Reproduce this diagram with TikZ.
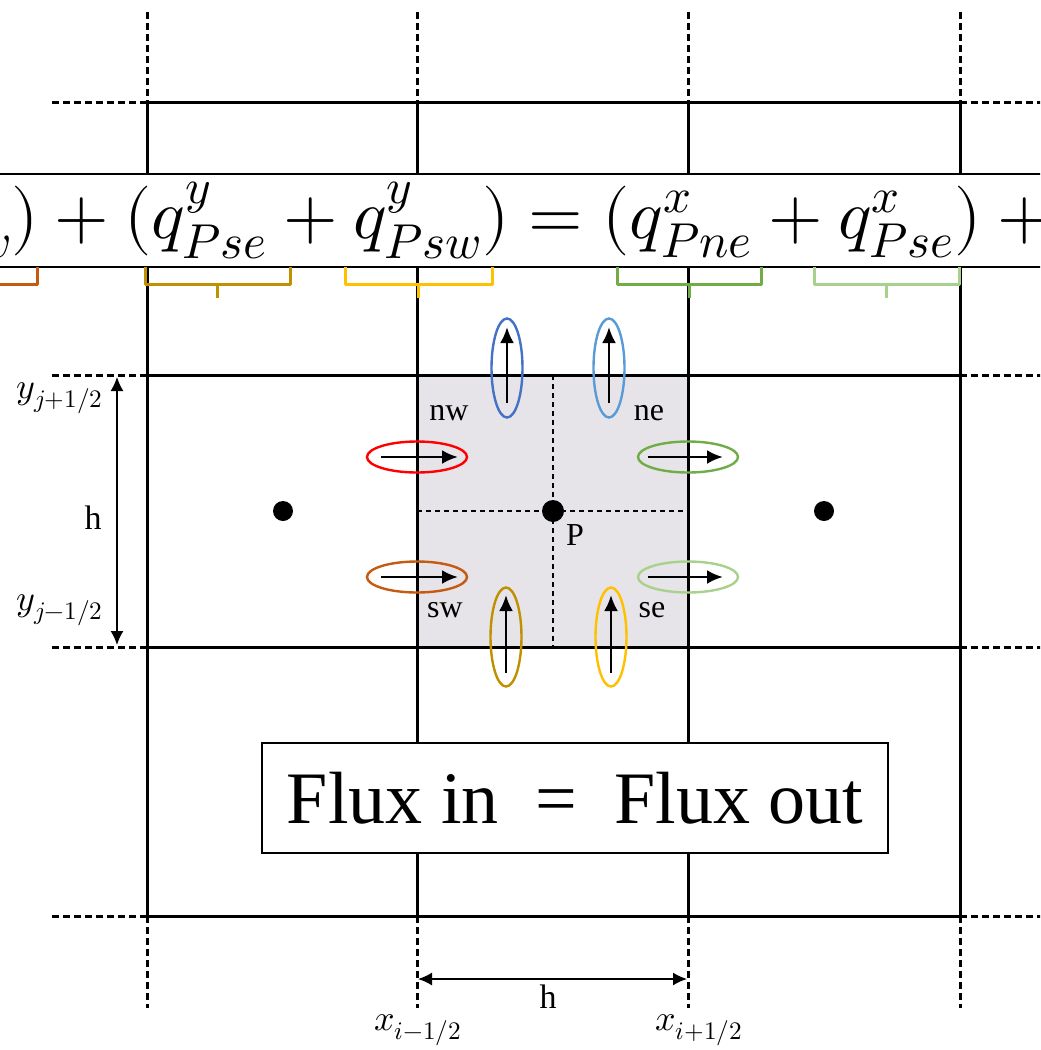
\documentclass[tikz,border=0pt]{standalone}
\usepackage{mathtools}
\usepackage{fontspec}
\usepackage{unicode-math}
\setmainfont{Liberation Serif}
\setmathfont{Latin Modern Math}
\usetikzlibrary{shapes.geometric,arrows.meta}
\definecolor{cellfill}{RGB}{230,228,232}
\definecolor{blueD}{RGB}{68,114,196}
\definecolor{blueL}{RGB}{91,155,213}
\definecolor{redC}{RGB}{255,0,0}
\definecolor{orangeC}{RGB}{197,90,17}
\definecolor{goldD}{RGB}{191,144,0}
\definecolor{goldL}{RGB}{255,192,0}
\definecolor{greenD}{RGB}{112,173,71}
\definecolor{greenL}{RGB}{169,209,142}
\begin{document}
\begin{tikzpicture}[x=0.5pt,y=-0.5pt,
  gridline/.style={line width=1.5pt},
  griddash/.style={line width=1.5pt,dash pattern=on 3.5pt off 2pt},
  thindash/.style={line width=1pt,dash pattern=on 2.5pt off 2pt},
  flux/.style={line width=1.4pt,-{Latex[length=8pt,width=7pt]}},
  ringv/.style={ellipse,draw,line width=1.2pt,inner sep=0pt,minimum width=15.5pt,minimum height=49.5pt},
  ringh/.style={ellipse,draw,line width=1.2pt,inner sep=0pt,minimum width=50pt,minimum height=15.5pt},
  dot/.style={circle,fill=black,inner sep=0pt,minimum size=10pt},
  lab/.style={font=\fontsize{16}{18}\selectfont,inner sep=0pt},
  hlab/.style={font=\fontsize{17}{19}\selectfont,inner sep=0pt},
  coordlab/.style={font=\fontsize{18}{20}\selectfont,inner sep=0pt},
  dim/.style={line width=0.8pt,{Latex[length=7pt,width=6.5pt]}-{Latex[length=7pt,width=6.5pt]}},
  brk/.style={line width=1.5pt,line join=round}]
\useasboundingbox (0,0) rectangle (1040,1050);
\clip (0,0) rectangle (1040,1050);
% shaded control volume
\fill[cellfill] (417,375) rectangle (688,647);
\draw[thindash] (553,375) -- (553,647);
\draw[thindash] (417,511) -- (688,511);
% grid
\foreach \x in {147,417,688,960} {
  \draw[gridline] (\x,102) -- (\x,916);
  \draw[griddash] (\x,12) -- (\x,102);
  \draw[griddash] (\x,916) -- (\x,1008);
}
\foreach \y in {102,375,647,916} {
  \draw[gridline] (147,\y) -- (960,\y);
  \draw[griddash] (52,\y) -- (147,\y);
  \draw[griddash] (960,\y) -- (1045,\y);
}
% nodes
\node[dot] (W) at (283,511) {};
\node[dot,minimum size=11pt] (P) at (553,511) {};
\node[dot] (E) at (824,511) {};
\node[lab] (Plab) at (575,535) {P};
\node[lab] (nw) at (449,413) {nw};
\node[lab] (ne) at (649,413) {ne};
\node[lab] (sw) at (445,610) {sw};
\node[lab] (se) at (652,610) {se};
% flux ellipses and arrows
\node[ringv,draw=blueD] (fnw) at (507,368) {};
\node[ringv,draw=blueL] (fne) at (609,368) {};
\node[ringv,draw=goldD] (fsw) at (506,637) {};
\node[ringv,draw=goldL] (fse) at (611,637) {};
\node[ringh,draw=redC] (fw1) at (417,457) {};
\node[ringh,draw=orangeC] (fw2) at (417,577) {};
\node[ringh,draw=greenD] (fe1) at (688,457) {};
\node[ringh,draw=greenL] (fe2) at (688,577) {};
\draw[flux] ([yshift=-17.5pt]fnw.center) -- ([yshift=20.5pt]fnw.center);
\draw[flux] ([yshift=-17.5pt]fne.center) -- ([yshift=20.5pt]fne.center);
\draw[flux] ([yshift=-18pt]fsw.center) -- ([yshift=21pt]fsw.center);
\draw[flux] ([yshift=-18pt]fse.center) -- ([yshift=21pt]fse.center);
\draw[flux] ([xshift=-18pt]fw1.center) -- ([xshift=20.5pt]fw1.center);
\draw[flux] ([xshift=-18pt]fw2.center) -- ([xshift=20.5pt]fw2.center);
\draw[flux] ([xshift=-20pt]fe1.center) -- ([xshift=17.5pt]fe1.center);
\draw[flux] ([xshift=-20pt]fe2.center) -- ([xshift=17.5pt]fe2.center);
% dimensions
\coordinate (yt) at (117,377);
\coordinate (yb) at (117,645);
\draw[dim] (yt) -- (yb);
\node[hlab] (hy) at (93,518) {h};
\node[coordlab] (yp) at (60,398) {$y_{j+1/2}$};
\node[coordlab] (ym) at (60,610) {$y_{j-1/2}$};
\coordinate (xl) at (418,979);
\coordinate (xr) at (687,979);
\draw[dim] (xl) -- (xr);
\node[hlab] (hx) at (548,997) {h};
\node[coordlab] (xm) at (418,1030) {$x_{i-1/2}$};
\node[coordlab] (xp) at (699,1030) {$x_{i+1/2}$};
% equation banner
\draw[line width=1pt,fill=white] (-20,174) rectangle (1060,267);
\node[anchor=base,inner sep=0pt,font=\fontsize{35}{40}\selectfont] (eq) at (556,238)
 {$\mathllap{(q^x_{Pnw}+q^x_{Psw})+(q^y_{Pse}+q^y_{Psw})}=\mathrlap{(q^x_{Pne}+q^x_{Pse})+(q^y_{Pnw}+q^y_{Pne})}$};
% colored brackets
\foreach \a/\b/\c in {-110/37/orangeC,145/290/goldD,345/492/goldL,617/761/greenD,814/959/greenL} {
  \draw[brk,draw=\c] (\a,267) -- (\a,284) -- (\b,284) -- (\b,267);
  \draw[brk,draw=\c] ({(\a+\b)/2},284) -- ({(\a+\b)/2},298);
}
% flux balance box
\node[draw,fill=white,line width=1pt,minimum width=313pt,minimum height=55pt,inner sep=0pt,
  font=\fontsize{37}{42}\selectfont] (bal) at (575,798) {Flux in\ \ =\ \ Flux out};
\end{tikzpicture}
\end{document}
